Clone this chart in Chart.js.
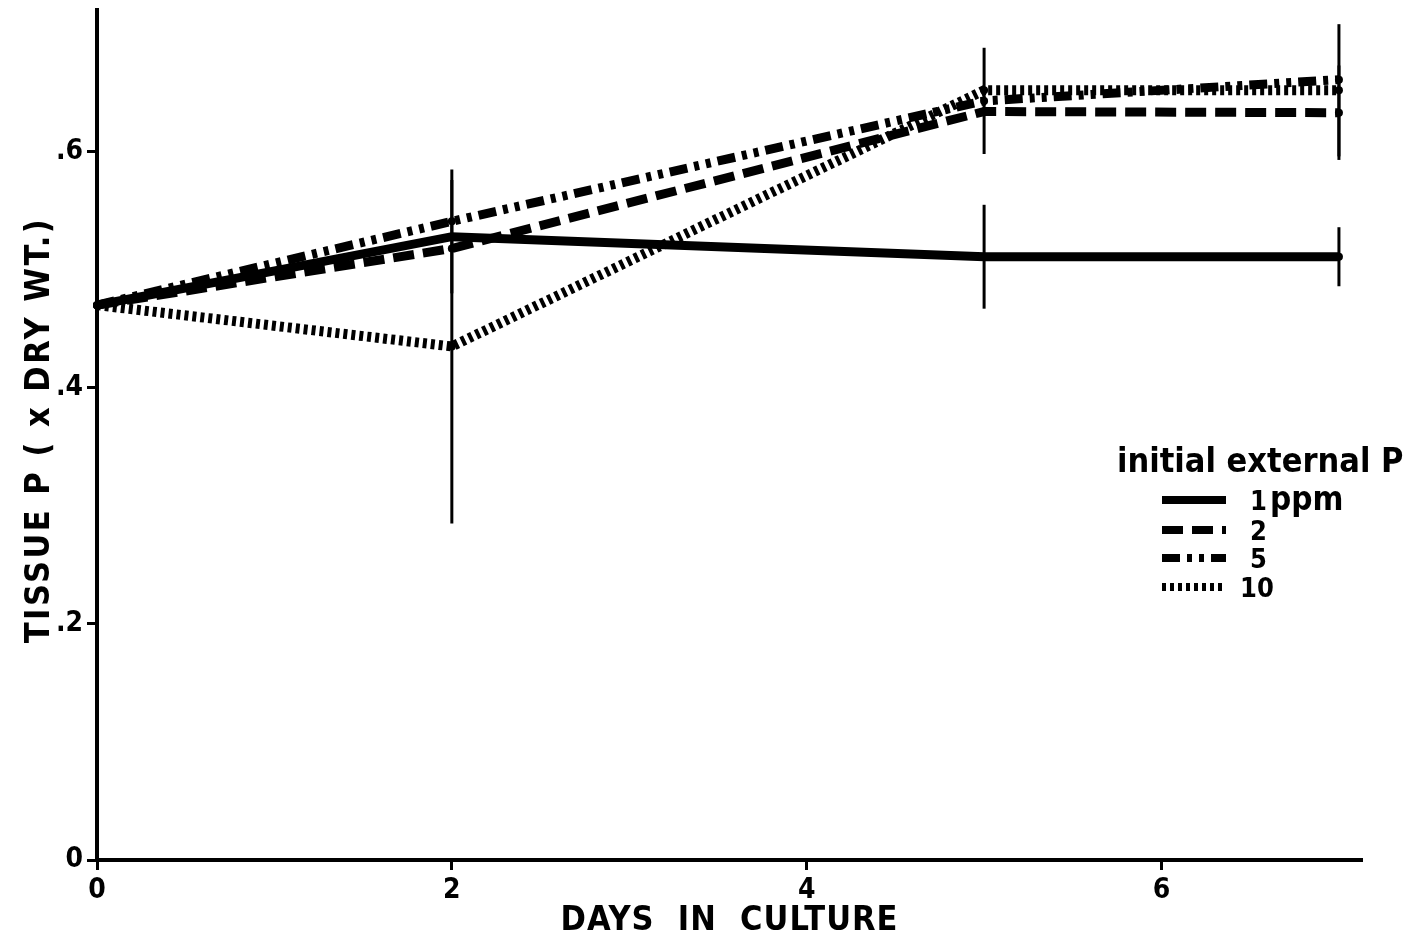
<!DOCTYPE html>
<html>
<head>
<meta charset="utf-8">
<script src="https://cdn.jsdelivr.net/npm/chart.js@4.4.1/dist/chart.umd.min.js"></script>
<style>
  html, body { margin: 0; padding: 0; background: #fff; }
  #wrap { width: 1416px; height: 944px; }
</style>
</head>
<body>
<div id="wrap"><canvas id="chart" width="1416" height="944"></canvas></div>
<script>
'use strict';

// days in culture
var days = [0, 2, 5, 7];

// tissue P (% dry wt.) per initial external P
var p1 = [0.47, 0.528, 0.511, 0.511];
var p2 = [0.47, 0.518, 0.634, 0.633];
var p5 = [0.47, 0.541, 0.643, 0.661];
var p10 = [0.47, 0.435, 0.652, 0.652];

// error bar half lengths (null = none)
var e1 = [null, 0.048, 0.044, 0.025];
var e2 = [null, null, null, 0.04];
var e5 = [null, null, 0.045, null];
var e10 = [null, 0.15, null, 0.056];

var legendLabels = ['1', '2', '5', '10'];

var FONT = "'DejaVu Sans Condensed', 'DejaVu Sans', sans-serif";
var dashes = [[], [21, 9], [18, 7, 5, 7, 5, 7], [4, 4]];
var widths = [9, 9, 9, 10];

function pts(vals) {
  return vals.map(function(v, i) { return { x: days[i], y: v }; });
}

function mkSet(label, vals, errs, idx) {
  return {
    label: label,
    data: pts(vals),
    errors: errs,
    borderColor: '#000',
    backgroundColor: '#000',
    borderWidth: widths[idx],
    borderDash: dashes[idx],
    borderCapStyle: 'butt',
    pointRadius: 4,
    pointBorderWidth: 0,
    tension: 0,
    clip: false
  };
}

//error bars, legend and axis titles
var extras = {
  id: 'extras',
  afterDatasetsDraw: function(chart) {
    var ctx = chart.ctx;
    var xs = chart.scales.x, ys = chart.scales.y;
    ctx.save();
    ctx.strokeStyle = '#000';
    ctx.lineWidth = 3;
    chart.data.datasets.forEach(function(ds) {
      ds.data.forEach(function(p, j) {
        var e = ds.errors[j];
        if (e == null) return;
        var x = xs.getPixelForValue(p.x);
        ctx.beginPath();
        ctx.moveTo(x, ys.getPixelForValue(p.y + e));
        ctx.lineTo(x, ys.getPixelForValue(p.y - e));
        ctx.stroke();
      });
    });
    ctx.restore();
  },
  afterDraw: function(chart) {
    var ctx = chart.ctx;
    var area = chart.chartArea;
    ctx.save();
    ctx.fillStyle = '#000';

    // x title
    ctx.font = 'bold 34px ' + FONT;
    ctx.letterSpacing = '1px';
    ctx.textAlign = 'center';
    ctx.textBaseline = 'middle';
    ctx.fillText('DAYS  IN  CULTURE', (area.left + area.right) / 2, 921);

    // y title
    ctx.save();
    ctx.letterSpacing = '2.5px';
    ctx.translate(40, 430);
    ctx.rotate(-Math.PI / 2);
    ctx.fillText('TISSUE P ( x DRY WT.)', 0, 0);
    ctx.restore();

    // legend
    ctx.letterSpacing = '0px';
    ctx.textAlign = 'left';
    ctx.textBaseline = 'alphabetic';
    ctx.font = 'bold 34px ' + FONT;
    ctx.fillText('initial external P', 1117, 472);

    var rows = [500, 530, 558, 587];
    ctx.font = 'bold 27px ' + FONT;
    rows.forEach(function(y, i) {
      ctx.beginPath();
      ctx.setLineDash(dashes[i]);
      ctx.lineWidth = 8;
      ctx.lineCap = 'butt';
      ctx.moveTo(1162, y);
      ctx.lineTo(1226, y);
      ctx.stroke();
      ctx.setLineDash([]);
      var lx = legendLabels[i].length > 1 ? 1240 : 1250;
      ctx.fillText(legendLabels[i], lx, y + 10);
    });
    ctx.font = 'bold 33px ' + FONT;
    ctx.fillText('ppm', 1270, 510);
    ctx.restore();
  }
};

var ctx = document.getElementById('chart').getContext('2d');

var tissueChart = new Chart(ctx, {
  type: 'line',
  data: {
    datasets: [
      mkSet('1 ppm', p1, e1, 0),
      mkSet('2', p2, e2, 1),
      mkSet('5', p5, e5, 2),
      mkSet('10', p10, e10, 3)
    ]
  },
  options: {
    responsive: false,
    animation: false,
    layout: { padding: { top: 10, right: 54, left: 0, bottom: 0 } },
    plugins: {
      legend: { display: false },
      tooltip: { enabled: false }
    },
    scales: {
      x: {
        type: 'linear',
        min: 0,
        max: 7.13,
        afterFit: function(s) { s.height = 84; },
        border: { display: true, color: '#000', width: 4 },
        grid: { drawOnChartArea: false, drawTicks: true, tickLength: 10, tickWidth: 3, tickColor: '#000' },
        ticks: {
          stepSize: 2,
          includeBounds: false,
          padding: 4,
          color: '#000',
          font: { family: FONT, size: 28, weight: 'bold' }
        }
      },
      y: {
        min: 0,
        max: 0.72,
        afterFit: function(s) {
          s.width = 97;
          s.paddingTop = 0;
          s.paddingBottom = 0;
        },
        border: { display: true, color: '#000', width: 4 },
        grid: { drawOnChartArea: false, drawTicks: true, tickLength: 10, tickWidth: 3, tickColor: '#000' },
        ticks: {
          stepSize: 0.2,
          includeBounds: false,
          padding: 4,
          color: '#000',
          font: { family: FONT, size: 28, weight: 'bold' },
          callback: function(v) {
            return v === 0 ? '0' : v.toFixed(1).replace(/^0/, '');
          }
        }
      }
    }
  },
  plugins: [extras]
});
</script>
</body>
</html>
